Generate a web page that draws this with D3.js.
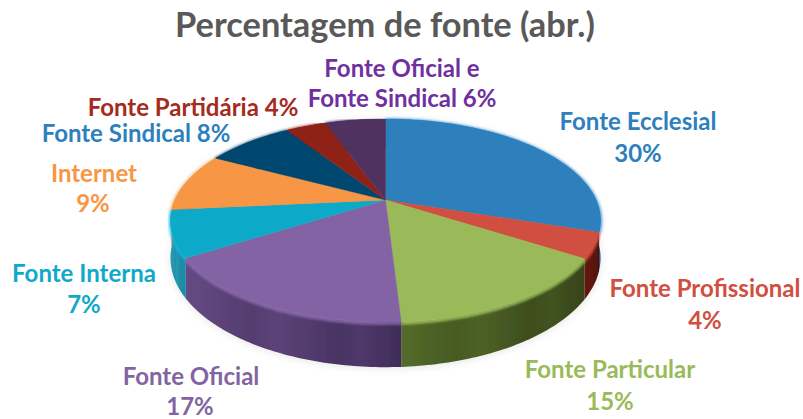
<!DOCTYPE html>
<html><head><meta charset="utf-8">
<style>html,body{margin:0;padding:0;background:#fff}svg{display:block}
text{font-family:Lato,"Open Sans",sans-serif;font-weight:700;text-anchor:middle}</style>
<script src="https://cdn.jsdelivr.net/npm/d3@7"></script></head><body>
<script>
const titleText = "Percentagem de fonte (abr.)";
const categories = ["Fonte Ecclesial","Fonte Profissional","Fonte Particular","Fonte Oficial","Fonte Interna","Internet","Fonte Sindical","Fonte Partidária","Fonte Oficial e Fonte Sindical"];
const shownPercent = ["30%","4%","15%","17%","7%","9%","8%","4%","6%"];
const values = [30,4,15,17,7.4,9.3,8,3.7,5.5];
const topColors = ["#2e80bd","#d14f40","#9aba5a","#8364a3","#0fa9c9","#f79645","#05466f","#8e2119","#4f315f"];
const wallLight = ["#2b6f9f","#6d1a12","#546c2a","#654b84","#2a9db8","#c9762f","#05365a","#6b1a14","#3c2749"];
const wallDark = ["#1c4f78","#4a100c","#36431a","#3f2c58","#1a84a0","#8c5120","#03253f","#4a100c","#291a33"];
const labelColors = ["#2e80bd","#d14f40","#9aba5a","#8364a3","#0fa9c9","#f79645","#2e80bd","#a52a20","#7030a0"];
const labelLines = [
 [["Fonte Ecclesial",638,129.5],["30%",638,162]],
 [["Fonte Profissional",705,297],["4%",705,329]],
 [["Fonte Particular",610,378],["15%",610,410]],
 [["Fonte Oficial",191,384.5],["17%",190,415]],
 [["Fonte Interna",84,282],["7%",84,313]],
 [["Internet",94,181.5],["9%",93,212]],
 [["Fonte Sindical 8%",136,142]],
 [["Fonte Partidária 4%",193,116]],
 [["Fonte Oficial e",402,77],["Fonte Sindical 6%",402,107]]
];

const W=803,H=419, cx=385.5, cy=200, A=210.6, B=97.4, k=0.202, T=36;
const sx=d3.scaleLinear().domain([-1,1]).range([cx-A,cx+A]);
const sy=d3.scaleLinear().domain([-1,1]).range([cy-B,cy+B]);
const proj=(a,r=1)=>{const u=r*Math.sin(a),v=-r*Math.cos(a),w=1-k*v;
  return {x:sx(u/w),y:sy(v/w),t:T/w};};
const line=d3.line().x(d=>d[0]).y(d=>d[1]);
const arcPts=(a0,a1)=>{const n=Math.max(4,Math.ceil((a1-a0)*60));return d3.range(n+1).map(i=>proj(a0+(a1-a0)*i/n));};

const svg=d3.select("body").append("svg").attr("width",W).attr("height",H).attr("viewBox",[0,0,W,H]);
const defs=svg.append("defs");
defs.append("filter").attr("id","soft").attr("x","-10%").attr("y","-10%").attr("width","120%").attr("height","120%")
  .append("feGaussianBlur").attr("stdDeviation",4);
defs.append("filter").attr("id","rim").append("feGaussianBlur").attr("stdDeviation",1.1);
defs.append("filter").attr("id","px").append("feGaussianBlur").attr("stdDeviation",0.45);

const arcs=d3.pie().sort(null).value(d=>d).startAngle(0).endAngle(2*Math.PI)(values);
const full=arcPts(0,2*Math.PI);

// soft drop shadow around the disc
svg.append("path").attr("filter","url(#soft)").attr("fill","#000").attr("opacity",.1)
  .attr("d",line(full.map(p=>[p.x,p.y+p.t+1]))+"Z");
svg.append("path").attr("filter","url(#soft)").attr("fill","#000").attr("opacity",.07)
  .attr("d",line(full.map(p=>[p.x,p.y]))+"Z");

const pie=svg.append("g").attr("filter","url(#px)");
// side walls
arcs.forEach((d,i)=>{
  const pts=arcPts(d.startAngle,d.endAngle);
  const x0=d3.min(pts,p=>p.x),x1=d3.max(pts,p=>p.x);
  const g=defs.append("linearGradient").attr("id","w"+i).attr("gradientUnits","userSpaceOnUse")
    .attr("x1",x0).attr("x2",x1).attr("y1",0).attr("y2",0);
  const L=wallLight[i],D=wallDark[i],M=d3.interpolateRgb(L,D);
  [[0,L],[.3,M(.45)],[.42,M(.25)],[.7,M(.75)],[.82,M(.6)],[1,D]].forEach(([o,c])=>g.append("stop").attr("offset",o).attr("stop-color",c));
  pie.append("path").attr("fill",`url(#w${i})`)
    .attr("d",line([...pts.map(p=>[p.x,p.y]),...pts.slice().reverse().map(p=>[p.x,p.y+p.t])])+"Z");
});
// rim highlight
arcs.forEach((d,i)=>{
  const pts=arcPts(d.startAngle,d.endAngle);
  pie.append("path").attr("fill","none").attr("stroke",d3.color(topColors[i]).brighter(.4)).attr("stroke-width",4)
    .attr("opacity",.7).attr("filter","url(#rim)")
    .attr("d",line(pts.map(p=>[p.x,p.y+1])));
});
// top face
arcs.forEach((d,i)=>{
  const pts=arcPts(d.startAngle,d.endAngle);
  pie.append("path").attr("fill",topColors[i]).attr("stroke",topColors[i]).attr("stroke-width",.4)
    .attr("d",line([[sx(0),sy(0)],...pts.map(p=>[p.x,p.y])])+"Z");
});

svg.append("text").attr("x",385).attr("y",37).attr("font-size",34.4).attr("fill","#595959").text(titleText);
labelLines.forEach((ls,i)=>ls.forEach(([s,x,y])=>{
  svg.append("text").attr("x",x).attr("y",y).attr("font-size",24).attr("fill",labelColors[i]).text(s);
}));
</script></body></html>
